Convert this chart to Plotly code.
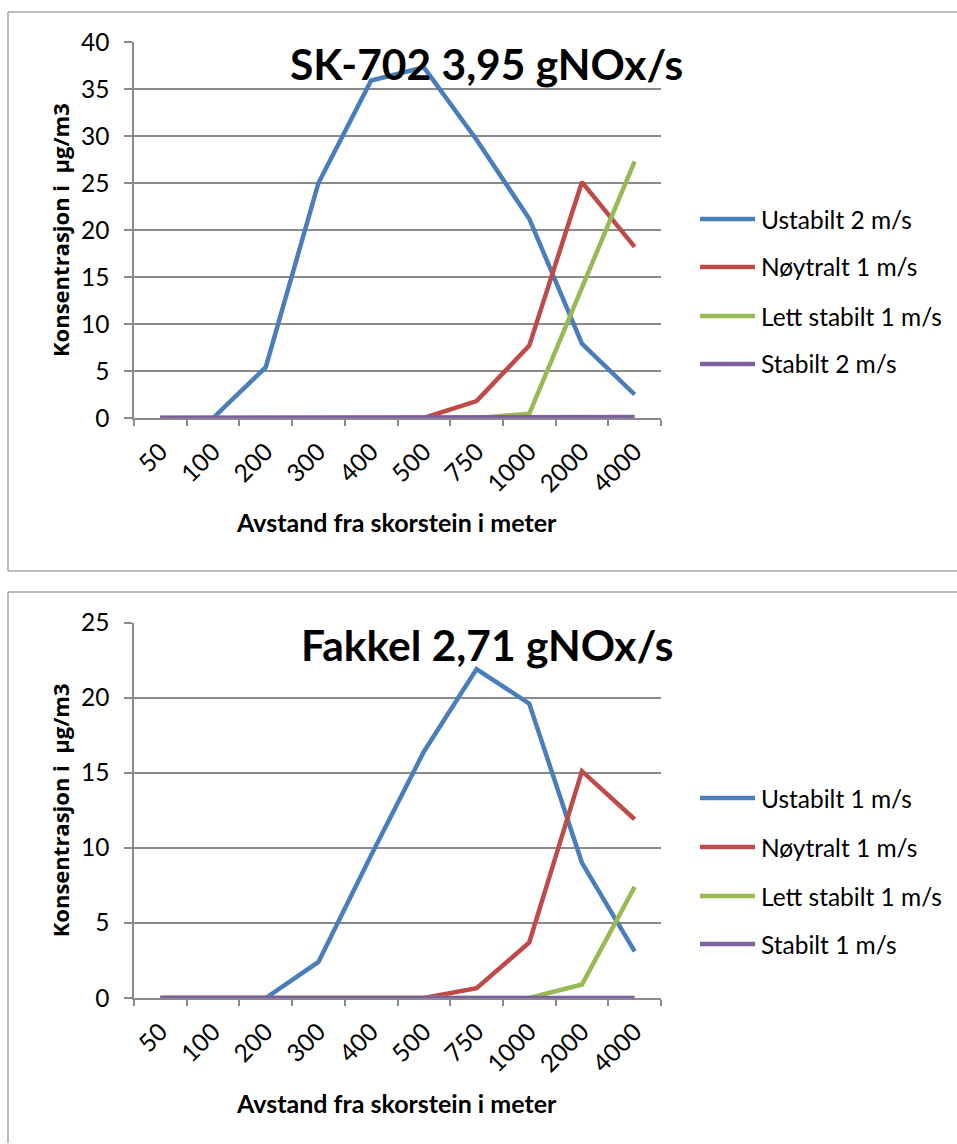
import plotly.graph_objects as go

# Distance categories (metres from the stack)
distances = ["50", "100", "200", "300", "400", "500", "750", "1000", "2000", "4000"]

# SK-702, 3,95 gNOx/s
sk_names = ["Ustabilt 2 m/s", "Nøytralt 1 m/s", "Lett stabilt 1 m/s", "Stabilt 2 m/s"]
sk_ustabilt = [0, 0, 5.4, 25.0, 35.9, 37.3, 29.6, 21.2, 7.9, 2.5]
sk_noytralt = [0, 0, 0, 0, 0, 0, 1.8, 7.7, 25.1, 18.2]
sk_lett_stabilt = [0, 0, 0, 0, 0, 0, 0, 0.45, 13.9, 27.3]
sk_stabilt = [0, 0, 0, 0, 0, 0, 0, 0, 0, 0.1]

# Fakkel, 2,71 gNOx/s
fk_names = ["Ustabilt 1 m/s", "Nøytralt 1 m/s", "Lett stabilt 1 m/s", "Stabilt 1 m/s"]
fk_ustabilt = [0, 0, 0, 2.4, 9.5, 16.4, 21.9, 19.6, 9.0, 3.1]
fk_noytralt = [0, 0, 0, 0, 0, 0, 0.65, 3.7, 15.1, 11.9]
fk_lett_stabilt = [0, 0, 0, 0, 0, 0, 0, 0, 0.9, 7.4]
fk_stabilt = [0, 0, 0, 0, 0, 0, 0, 0, 0, 0]

titles = ["SK-702 3,95 gNOx/s", "Fakkel 2,71 gNOx/s"]
y_title = "Konsentrasjon i \u00a0µg/m3"
x_title = "Avstand fra skorstein i meter"
colors = ["#4A7EBB", "#BE4B48", "#98B954", "#7D60A0"]

W, H = 957, 1144
def px(x):
    return x / W
def py(y):
    return 1 - y / H

FONT = "Lato"
GRID = "#8a8a8a"
BORDER = "#a6a6a6"

fig = go.Figure()

panels = [
    dict(names=sk_names, data=[sk_ustabilt, sk_noytralt, sk_lett_stabilt, sk_stabilt],
         xa="x", ya="y", ymax=40, top=42, bottom=418, box=(12, 571),
         legend_y=[219, 267, 316, 364], title_y=63, xtitle_y=522),
    dict(names=fk_names, data=[fk_ustabilt, fk_noytralt, fk_lett_stabilt, fk_stabilt],
         xa="x2", ya="y2", ymax=25, top=622.5, bottom=998, box=(592, 1143),
         legend_y=[798, 847, 896, 944], title_y=644, xtitle_y=1103),
]

shapes = []
annotations = []

for i, p in enumerate(panels):
    for name, vals, col in zip(p["names"], p["data"], colors):
        fig.add_trace(go.Scatter(
            x=distances, y=vals, name=name, mode="lines",
            line=dict(color=col, width=4.5),
            xaxis=p["xa"], yaxis=p["ya"], showlegend=False, cliponaxis=False,
        ))
    # chart frame (open to the right, and below for the lower chart)
    x0, x1 = px(8), 1.0
    ytop, ybot = py(p["box"][0]), py(p["box"][1])
    frame = dict(xref="paper", yref="paper", type="line",
                 line=dict(color=BORDER, width=1.5), layer="below")
    shapes.append(dict(frame, x0=x0, x1=x1, y0=ytop, y1=ytop))
    shapes.append(dict(frame, x0=x0, x1=x0, y0=ytop, y1=ybot))
    if i == 0:
        shapes.append(dict(frame, x0=x0, x1=x1, y0=ybot, y1=ybot))
    # legend entries
    for name, col, ly in zip(p["names"], colors, p["legend_y"]):
        shapes.append(dict(type="line", xref="paper", yref="paper",
                           x0=px(700), x1=px(755), y0=py(ly), y1=py(ly),
                           line=dict(color=col, width=4.5)))
        annotations.append(dict(text=name, xref="paper", yref="paper",
                                x=px(759), y=py(ly), xanchor="left", yanchor="middle",
                                showarrow=False, font=dict(family=FONT, size=24.5, color="#000")))
    # chart title
    annotations.append(dict(text="<b>%s</b>" % titles[i], xref="paper", yref="paper",
                            x=px(487), y=py(p["title_y"]), xanchor="center", yanchor="middle",
                            showarrow=False, font=dict(family=FONT, size=42.5, color="#000")))
    # axis titles
    annotations.append(dict(text="<b>%s</b>" % x_title, xref="paper", yref="paper",
                            x=px(396), y=py(p["xtitle_y"]), xanchor="center", yanchor="middle",
                            showarrow=False, font=dict(family=FONT, size=25, color="#000")))
    annotations.append(dict(text="<b>%s</b>" % y_title, xref="paper", yref="paper",
                            x=px(60), y=py((p["top"] + p["bottom"]) / 2), textangle=-90,
                            xanchor="center", yanchor="middle",
                            showarrow=False, font=dict(family="Open Sans", size=22, color="#000")))

xaxis_common = dict(
    type="category", categoryorder="array", categoryarray=distances,
    range=[-0.5, len(distances) - 0.5], tickson="boundaries",
    ticks="outside", ticklen=6, tickwidth=1.5, tickcolor=GRID,
    showline=True, linecolor=GRID, linewidth=1.5, showgrid=False, zeroline=False,
    tickangle=-45, ticklabelstandoff=8, automargin=False, layer="below traces",
    tickfont=dict(family=FONT, size=24.5, color="#000"),
    domain=[px(134), px(661)], fixedrange=True,
)
yaxis_common = dict(
    dtick=5, tick0=0, ticks="outside", ticklen=8, tickwidth=1.5, tickcolor=GRID,
    showline=True, linecolor=GRID, linewidth=1.5,
    showgrid=True, gridcolor=GRID, gridwidth=1.5, zeroline=False,
    ticklabelstandoff=10, automargin=False, layer="below traces",
    tickfont=dict(family=FONT, size=24.5, color="#000"), fixedrange=True,
)

fig.update_layout(
    width=W, height=H, autosize=False,
    margin=dict(l=0, r=0, t=0, b=0, pad=0, autoexpand=False),
    paper_bgcolor="white", plot_bgcolor="white",
    xaxis=dict(xaxis_common, anchor="y"),
    yaxis=dict(yaxis_common, anchor="x", range=[0, 40],
               domain=[py(panels[0]["bottom"]), py(panels[0]["top"])]),
    xaxis2=dict(xaxis_common, anchor="y2"),
    yaxis2=dict(yaxis_common, anchor="x2", range=[0, 25],
                domain=[py(panels[1]["bottom"]), py(panels[1]["top"])]),
    shapes=shapes, annotations=annotations, showlegend=False,
)

# page without body margin so the figure fills the window exactly
fig.write_html(
    "out.html",
    post_script="document.documentElement.style.margin='0';"
                "document.body.style.margin='0';"
                "document.body.style.overflow='hidden';",
)
